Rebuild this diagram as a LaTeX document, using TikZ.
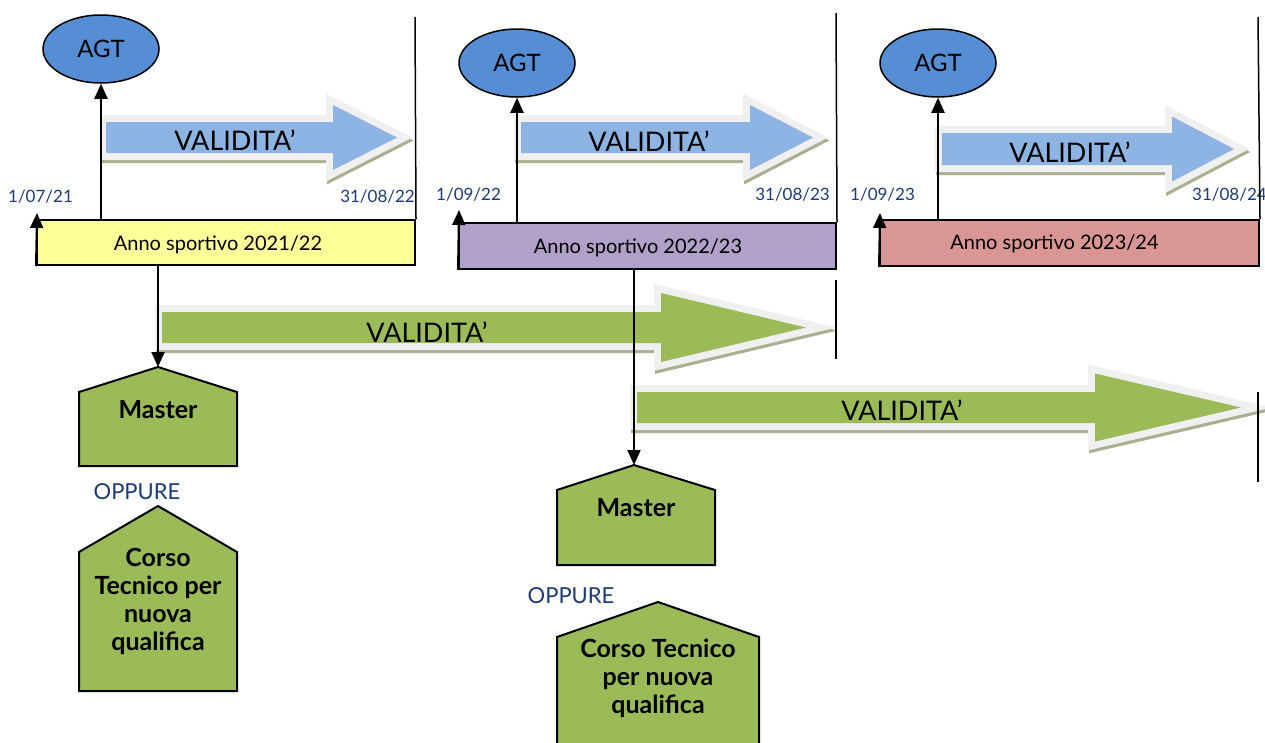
\documentclass[tikz,border=0pt]{standalone}
\usepackage{fontspec}
\setmainfont{Lato}
\usetikzlibrary{arrows.meta,calc,shapes.geometric}
\definecolor{yel}{HTML}{FFFF99}
\definecolor{pur}{HTML}{B1A0C7}
\definecolor{pnk}{HTML}{DA9694}
\definecolor{grn}{HTML}{9BBB59}
\definecolor{lblue}{HTML}{8DB4E2}
\definecolor{dblue}{HTML}{558ED5}
\definecolor{navy}{HTML}{1F3A78}
\definecolor{glow}{HTML}{F0F0F0}
\definecolor{shad}{HTML}{A8B08F}
% x0, xhead, xtip, ycenter, half body, half head, colour
\newcommand\blockarr[7]{%
  \path[draw=shad,line width=14pt,line join=miter,shift={(1,3)}]
    (#1,#4-#5) -- (#2,#4-#5) -- (#2,#4-#6) -- (#3,#4) -- (#2,#4+#6) -- (#2,#4+#5) -- (#1,#4+#5) -- cycle;
  \path[draw=glow,line width=14pt,line join=miter]
    (#1,#4-#5) -- (#2,#4-#5) -- (#2,#4-#6) -- (#3,#4) -- (#2,#4+#6) -- (#2,#4+#5) -- (#1,#4+#5) -- cycle;
  \path[fill=#7]
    (#1,#4-#5) -- (#2,#4-#5) -- (#2,#4-#6) -- (#3,#4) -- (#2,#4+#6) -- (#2,#4+#5) -- (#1,#4+#5) -- cycle;
}
\tikzset{
  conn/.style={line width=2pt,-{Triangle[length=15pt,width=13pt]}},
  annobox/.style={draw=black,line width=2pt,inner sep=0pt},
  annotext/.style={font=\fontsize{20}{22}\selectfont,inner sep=0pt},
  agt/.style={ellipse,draw=black,line width=1.5pt,fill=dblue,inner sep=0pt,
    minimum width=116pt,minimum height=68pt,font=\fontsize{24}{26}\selectfont},
  datetext/.style={text=navy,font=\fontsize{17}{20}\selectfont,inner sep=0pt},
  valtext/.style={font=\fontsize{27}{30}\selectfont,inner sep=0pt},
  vline/.style={line width=1.5pt},
  house/.style={draw=black,line width=2pt,fill=grn,line join=miter},
  housetext/.style={font=\bfseries\fontsize{25}{28}\selectfont,align=center,inner sep=0pt},
  oppure/.style={text=navy,font=\fontsize{22}{24}\selectfont,inner sep=0pt},
}
\begin{document}
\begin{tikzpicture}[x=1pt,y=-1pt]
\useasboundingbox[fill=white] (0,0) rectangle (1265,742);

% block arrows
\blockarr{106}{333}{397}{137.5}{15.5}{32.5}{lblue}
\blockarr{521}{750}{813}{137.5}{15.5}{32.5}{lblue}
\blockarr{942}{1172}{1234}{149}{16}{32.5}{lblue}
\blockarr{162}{661}{806}{327.5}{15.5}{34.5}{grn}
\blockarr{637}{1095}{1241}{407.5}{15.5}{34}{grn}
\node[valtext] (val1) at (235,140) {VALIDITA’};
\node[valtext] (val2) at (649,141) {VALIDITA’};
\node[valtext] (val3) at (1070,152) {VALIDITA’};
\node[valtext] (val4) at (427,332) {VALIDITA’};
\node[valtext] (val5) at (902,410) {VALIDITA’};

% season boxes
\node[annobox,fill=yel,minimum width=378pt,minimum height=45pt] (box1) at (226,242.5) {};
\node[annobox,fill=pur,minimum width=377pt,minimum height=46pt] (box2) at (647.5,246) {};
\node[annobox,fill=pnk,minimum width=379pt,minimum height=46pt] (box3) at (1069.5,243) {};
\node[annotext] (lab1) at (218,245) {Anno sportivo 2021/22};
\node[annotext] (lab2) at (638,248) {Anno sportivo 2022/23};
\node[annotext] (lab3) at (1054.5,244) {Anno sportivo 2023/24};

% AGT ellipses
\node[agt] (agt1) at (101,49) {AGT};
\node[agt] (agt2) at (517,63) {AGT};
\node[agt] (agt3) at (938,63) {AGT};

% dates
\node[datetext,anchor=west] (d1) at (8,197) {1/07/21};
\node[datetext,anchor=east] (d2) at (415,197) {31/08/22};
\node[datetext,anchor=west] (d3) at (436,195) {1/09/22};
\node[datetext,anchor=east] (d4) at (830,195) {31/08/23};
\node[datetext,anchor=west] (d5) at (850,195) {1/09/23};
\node[datetext,anchor=west] (d6) at (1192,195) {31/08/24};

% vertical limit lines
\coordinate (v1top) at (415,17);
\coordinate (v2top) at (836,13);
\coordinate (v3top) at (1258,17);
\coordinate (v2a) at (836,280);
\coordinate (v2b) at (836,359);
\coordinate (v3a) at (1258,392);
\coordinate (v3b) at (1258,482);
\draw[vline] (v1top) -- (box1.north east);
\draw[vline] (v2top) -- (box2.north east);
\draw[vline] (v3top) -- (box3.north east);
\draw[vline] (v2a) -- (v2b);
\draw[vline] (v3a) -- (v3b);

% up arrows to AGT
\draw[conn] (box1.north -| agt1.south) -- (agt1.south);
\draw[conn] (box2.north -| agt2.south) -- (agt2.south);
\draw[conn] (box3.north -| agt3.south) -- (agt3.south);

% left edge arrows
\coordinate (t1) at (37,213);
\coordinate (t2) at (459,210);
\coordinate (t3) at (880,213);
\draw[conn] (box1.south west) -- (t1);
\draw[conn] (box2.south west) -- (t2);
\draw[conn] (box3.south west) -- (t3);

% houses
\draw[house] (79,466) -- (79,392) -- (158,367) -- (237,392) -- (237,466) -- cycle;
\coordinate (m1apex) at (158,367);
\node[housetext] (m1) at (158,410) {Master};
\draw[house] (79,691) -- (79,552) -- (158,506) -- (237,552) -- (237,691) -- cycle;
\node[housetext] (c1) at (158,601.5) {Corso\\Tecnico per\\nuova\\qualifica};
\draw[house] (557,565) -- (557,490) -- (634,465) -- (715,490) -- (715,565) -- cycle;
\coordinate (m2apex) at (634,465);
\node[housetext] (m2) at (636,508) {Master};
\draw[house] (557,760) -- (557,637) -- (658,602) -- (759,637) -- (759,760) -- cycle;
\node[housetext] (c2) at (658,678) {Corso Tecnico\\per nuova\\qualifica};

\node[oppure] (op1) at (137,492) {OPPURE};
\node[oppure] (op2) at (571,596) {OPPURE};

% down arrows
\draw[conn] (box1.south -| m1apex) -- (m1apex);
\draw[conn] (box2.south -| m2apex) -- (m2apex);
\end{tikzpicture}
\end{document}
